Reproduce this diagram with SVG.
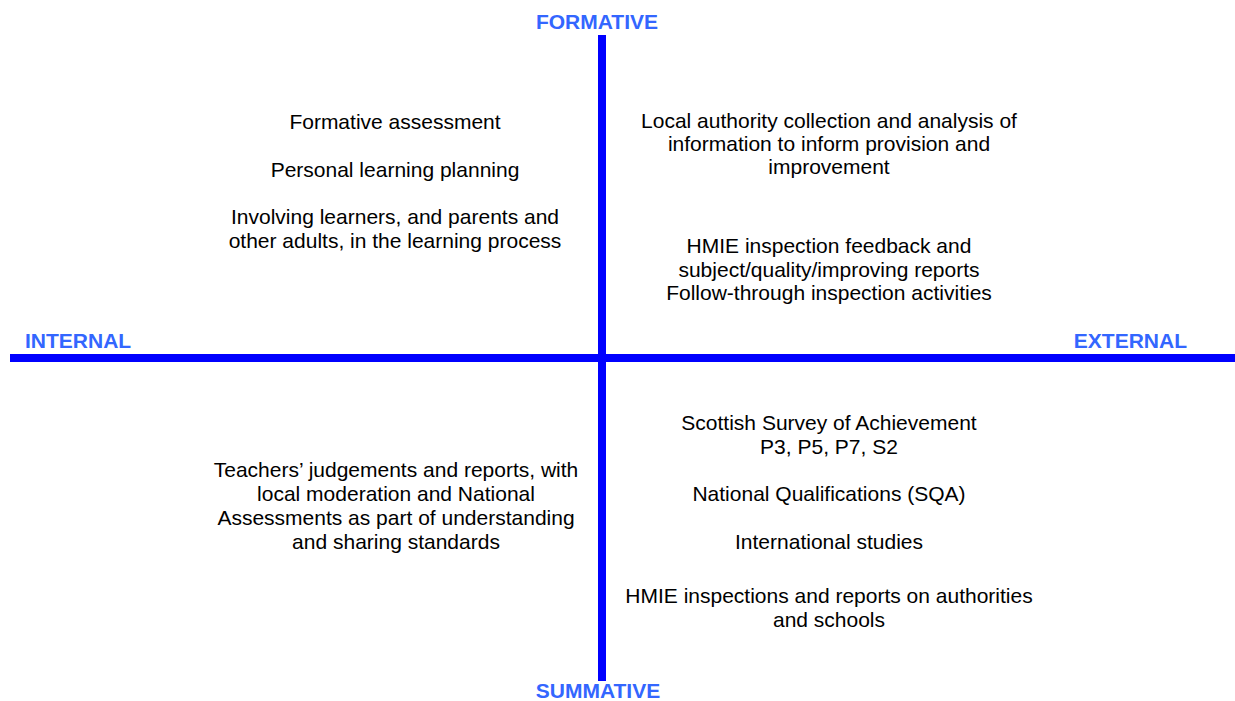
<svg xmlns="http://www.w3.org/2000/svg" width="1235" height="701" viewBox="0 0 1235 701">
<style>
.axis{fill:#0000FF}
.hdr{font-family:"Liberation Sans",Arial,sans-serif;font-weight:bold;font-size:21px;fill:#3366FF}
.txt{font-family:"Liberation Sans",Arial,sans-serif;font-size:21px;fill:#000000;text-anchor:middle}
</style>
<rect width="1235" height="701" fill="#FFFFFF"/>
<g id="axes">
<rect class="axis" x="598" y="35" width="8" height="646"/>
<rect class="axis" x="10" y="354" width="1225" height="8"/>
</g>
<g id="label-formative"><text class="hdr" x="597" y="29" text-anchor="middle">FORMATIVE</text></g>
<g id="label-summative"><text class="hdr" x="598" y="698" text-anchor="middle">SUMMATIVE</text></g>
<g id="label-internal"><text class="hdr" x="25" y="348">INTERNAL</text></g>
<g id="label-external"><text class="hdr" x="1187" y="348" text-anchor="end">EXTERNAL</text></g>
<g id="q-internal-formative">
<text class="txt" x="395" y="129">Formative assessment</text>
<text class="txt" x="395" y="177">Personal learning planning</text>
<text class="txt" x="395" y="224">Involving learners, and parents and</text>
<text class="txt" x="395" y="248">other adults, in the learning process</text>
</g>
<g id="q-external-formative">
<text class="txt" x="829" y="128">Local authority collection and analysis of</text>
<text class="txt" x="829" y="151">information to inform provision and</text>
<text class="txt" x="829" y="174">improvement</text>
<text class="txt" x="829" y="253">HMIE inspection feedback and</text>
<text class="txt" x="829" y="277">subject/quality/improving reports</text>
<text class="txt" x="829" y="300">Follow-through inspection activities</text>
</g>
<g id="q-internal-summative">
<text class="txt" x="396" y="477">Teachers’ judgements and reports, with</text>
<text class="txt" x="396" y="501">local moderation and National</text>
<text class="txt" x="396" y="525">Assessments as part of understanding</text>
<text class="txt" x="396" y="549">and sharing standards</text>
</g>
<g id="q-external-summative">
<text class="txt" x="829" y="430">Scottish Survey of Achievement</text>
<text class="txt" x="829" y="454">P3, P5, P7, S2</text>
<text class="txt" x="829" y="501">National Qualifications (SQA)</text>
<text class="txt" x="829" y="549">International studies</text>
<text class="txt" x="829" y="603">HMIE inspections and reports on authorities</text>
<text class="txt" x="829" y="627">and schools</text>
</g>
</svg>
